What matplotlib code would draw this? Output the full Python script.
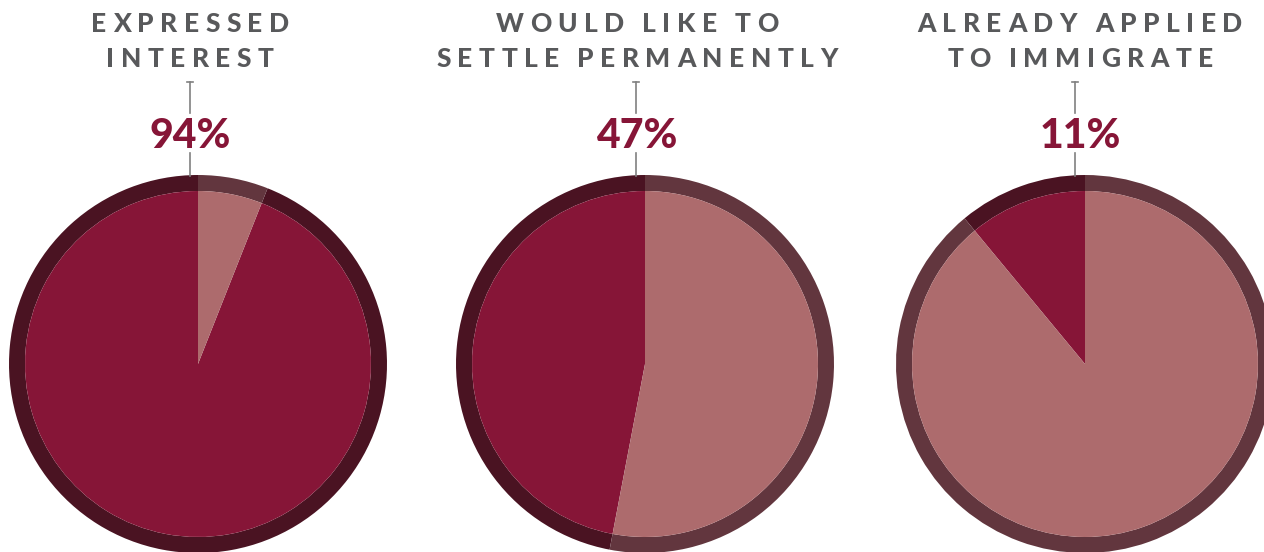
import matplotlib
matplotlib.use("Agg")
import numpy as np
from matplotlib import pyplot as plt
from matplotlib.font_manager import FontProperties

# ===== 数据 =====
titles = [
    ["EXPRESSED", "INTEREST"],
    ["WOULD LIKE TO", "SETTLE PERMANENTLY"],
    ["ALREADY APPLIED", "TO IMMIGRATE"],
]
percents = [94, 47, 11]

# ===== 颜色 =====
fill_hi = "#861537"
fill_lo = "#ad6b6d"
ring_hi = "#4a1322"
ring_lo = "#62363e"
title_color = "#58595b"
tick_color = "#808080"

W, H = 1264, 552
pie_cx = [198, 645, 1085]
text_cx = [190, 637, 1080]
tick_x = [190, 636, 1075]
pie_cy = H - 364
r_out, r_in = 189, 173

fig = plt.figure(figsize=(W / 100, H / 100), dpi=100)
ax = fig.add_axes([0, 0, 1, 1])
renderer = fig.canvas.get_renderer()

title_fp = FontProperties(family=["Lato", "DejaVu Sans"], weight="black", size=19)
pct_fp = FontProperties(family=["Lato", "DejaVu Sans"], weight="black", size=29.5)


# matplotlib 没有字间距，只能逐个字符画
def spaced_text(x, y, s, fp, color, track=6.5, space=5):
    widths = []
    for ch in s:
        if ch == " ":
            widths.append(space)
        else:
            w, _, _ = renderer.get_text_width_height_descent(ch, fp, ismath=False)
            widths.append(w)
    total = sum(widths) + track * (len(s) - 1)
    x0 = x - total / 2
    for ch, w in zip(s, widths):
        if ch != " ":
            ax.text(x0, y, ch, fontproperties=fp, color=color, ha="left", va="baseline")
        x0 += w + track


for i, p in enumerate(percents):
    vals = [p, 100 - p]
    # 外圈
    ax.pie(vals, colors=[ring_hi, ring_lo], startangle=90, counterclock=True,
           center=(pie_cx[i], pie_cy), radius=r_out,
           wedgeprops=dict(width=r_out - r_in, linewidth=0))
    # 内部
    ax.pie(vals, colors=[fill_hi, fill_lo], startangle=90, counterclock=True,
           center=(pie_cx[i], pie_cy), radius=r_in,
           wedgeprops=dict(linewidth=0))

    # 标题
    spaced_text(text_cx[i], H - 32, titles[i][0], title_fp, title_color)
    spaced_text(text_cx[i], H - 67, titles[i][1], title_fp, title_color)

    # 百分比
    ax.text(text_cx[i], H - 148, f"{p}%", fontproperties=pct_fp, color=fill_hi,
            ha="center", va="baseline")

    # 引线
    tx = tick_x[i]
    ax.plot([tx, tx], [H - 82, H - 113], color=tick_color, lw=1.2)
    ax.plot([tx - 3, tx + 3], [H - 82, H - 82], color=tick_color, lw=1.2)
    ax.plot([tx, tx], [H - 153, H - 176], color=tick_color, lw=1.2)

ax.set_xlim(0, W)
ax.set_ylim(0, H)
ax.set_aspect("equal")
ax.axis("off")

fig.savefig("out.png", dpi=100)
